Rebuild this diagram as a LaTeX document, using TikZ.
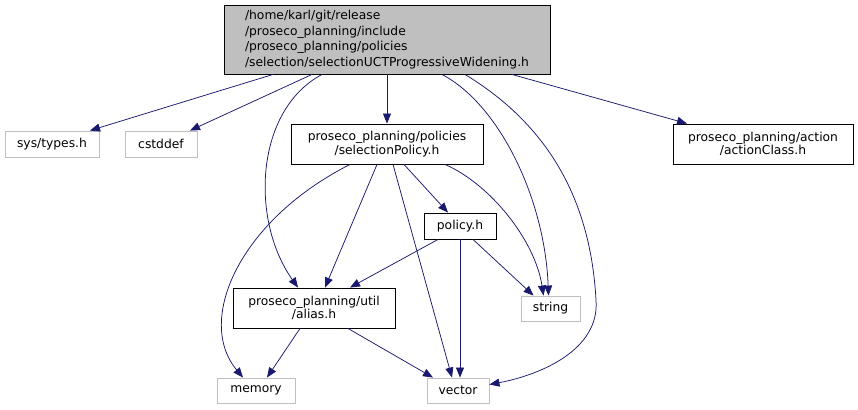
\documentclass[tikz,border=0pt]{standalone}
\usepackage{fontspec}
\setmainfont{DejaVu Sans}
\definecolor{dxedge}{RGB}{25,25,112}
\definecolor{dxgray}{RGB}{191,191,191}
\usetikzlibrary{arrows.meta}

\begin{document}
\begin{tikzpicture}[x=1pt,y=-1pt,
  incbox/.style={draw=black,line width=0.9pt,fill=white,inner sep=0pt,
    align=center,font=\fontsize{12.3}{13.5}\selectfont},
  sysbox/.style={draw=dxgray,line width=0.9pt,fill=white,inner sep=0pt,
    align=center,font=\fontsize{12.3}{13.5}\selectfont},
  dep/.style={draw=dxedge,line width=0.75pt,-{Triangle[length=10pt,width=8pt]}}
]
  \useasboundingbox (0,0) rectangle (858,409);

  % file itself
  \node[incbox,fill=dxgray,align=left,font=\fontsize{12.3}{15.5}\selectfont,
    minimum width=326pt,minimum height=69pt] (top) at (387,39.5)
    {/home/karl/git/release\\/proseco\_planning/include\\/proseco\_planning/policies\\/selection/selectionUCTProgressiveWidening.h};

  % included files
  \node[sysbox,minimum width=94pt,minimum height=26pt] (systypes) at (52,144) {sys/types.h};
  \node[sysbox,minimum width=72pt,minimum height=26pt] (cstddef) at (161,144) {cstddef};
  \node[incbox,minimum width=192pt,minimum height=40pt] (selpol) at (387,144) {proseco\_planning/policies\\/selectionPolicy.h};
  \node[incbox,minimum width=180pt,minimum height=40pt] (action) at (763,144) {proseco\_planning/action\\/actionClass.h};
  \node[incbox,minimum width=72pt,minimum height=26pt] (policy) at (460,226) {policy.h};
  \node[incbox,minimum width=162pt,minimum height=40pt] (alias) at (314,308) {proseco\_planning/util\\/alias.h};
  \node[sysbox,minimum width=59pt,minimum height=25pt] (string) at (550.5,308.5) {string};
  \node[sysbox,minimum width=78pt,minimum height=25pt] (memory) at (256,390.5) {memory};
  \node[sysbox,minimum width=62pt,minimum height=25pt] (vector) at (458,390.5) {vector};

  % from the file itself
  \draw[dep] ([xshift=-114pt]top.south) -- ([xshift=38pt]systypes.north);
  \draw[dep] ([xshift=-75pt]top.south) -- ([xshift=29pt]cstddef.north);
  \draw[dep] ([xshift=-65pt]top.south) .. controls (255,110) and (250,220) .. ([xshift=-16pt]alias.north);
  \draw[dep] (top.south) -- (selpol.north);
  \draw[dep] ([xshift=55pt]top.south) .. controls (500,105) and (545,200) .. ([xshift=-2pt]string.north);
  \draw[dep] ([xshift=78pt]top.south) .. controls (540,120) and (590,190) .. (596,300)
    .. controls (600,350) and (540,375) .. ([yshift=6pt]vector.east);
  \draw[dep] ([xshift=125pt]top.south) -- ([xshift=-76pt]action.north);

  % from selectionPolicy.h
  \draw[dep] ([xshift=-37pt]selpol.south) .. controls (240,220) and (195,320) .. ([xshift=-13pt]memory.north);
  \draw[dep] ([xshift=-10pt]selpol.south) -- ([xshift=11pt]alias.north);
  \draw[dep] ([xshift=6pt]selpol.south) -- ([xshift=-6pt]vector.north);
  \draw[dep] ([xshift=17pt]selpol.south) -- ([xshift=-12pt]policy.north);
  \draw[dep] ([xshift=58pt]selpol.south) .. controls (490,184) and (535,240) .. ([xshift=-7pt]string.north);

  % from policy.h
  \draw[dep] ([xshift=-22pt]policy.south) -- ([xshift=36pt]alias.north);
  \draw[dep] (policy.south) -- ([xshift=2pt]vector.north);
  \draw[dep] ([xshift=13pt]policy.south) -- ([xshift=-17pt]string.north);

  % from alias.h
  \draw[dep] ([xshift=-14pt]alias.south) -- ([xshift=11pt]memory.north);
  \draw[dep] ([xshift=34pt]alias.south) -- ([xshift=-25pt]vector.north);
\end{tikzpicture}
\end{document}
